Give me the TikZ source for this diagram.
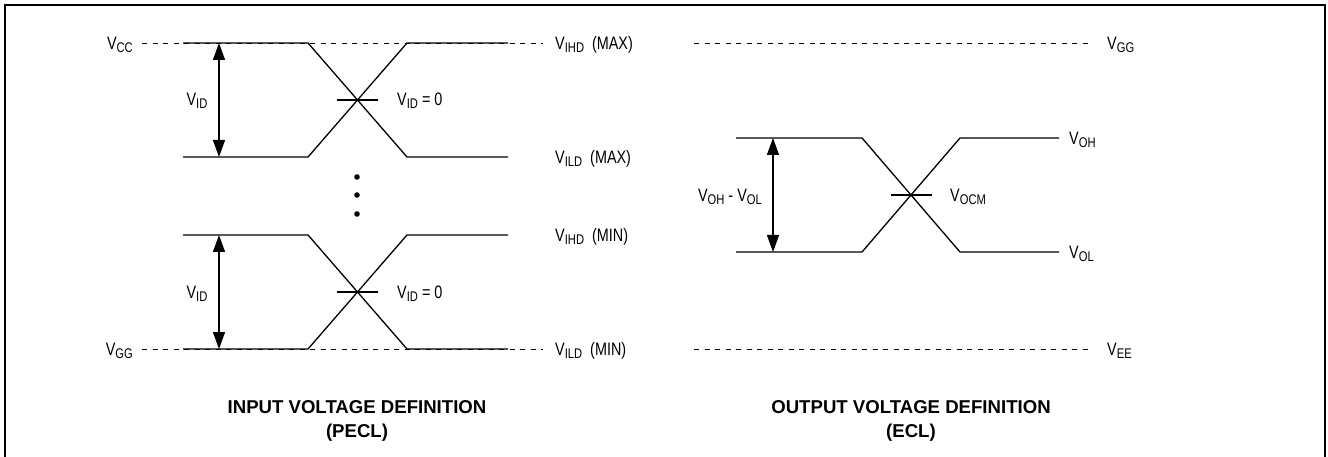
\documentclass[tikz,border=0pt]{standalone}
\usepackage{fontspec}
\setmainfont{Liberation Sans}
\newfontfamily\narrowfont[FakeStretch=0.8]{Liberation Sans}
\usetikzlibrary{positioning,arrows.meta}

\newcommand{\volt}[1]{V\raisebox{-0.3ex}{\fontsize{14}{14}\selectfont #1}}

\begin{document}
\begin{tikzpicture}[x=1pt, y=-1pt,
        lbl/.style={font=\narrowfont\fontsize{18}{18}\selectfont, inner sep=0pt},
        level/.style={line width=0.9pt, dash pattern=on 5pt off 5.5pt},
        sig/.style={line width=1.3pt},
        title/.style={font=\bfseries\fontsize{18.6}{24}\selectfont, align=center, inner sep=0pt}]
        \useasboundingbox (0,0) rectangle (1328,457);
        \draw[line width=2pt] (5,457) -- (5,5) -- (1325,5) -- (1325,457);

        % input side
        \draw[level] (142,43) -- (543,43);
        \draw[level] (142,349) -- (543,349);
        \coordinate (hiA) at (219,43);
        \coordinate (loA) at (219,157);
        \coordinate (hiB) at (219,235);
        \coordinate (loB) at (219,349);
        \draw[sig] (183,43) -- (308,43) -- (407,157) -- (508,157);
        \draw[sig] (183,157) -- (308,157) -- (407,43) -- (508,43);
        \draw[sig] (183,235) -- (308,235) -- (407,349) -- (508,349);
        \draw[sig] (183,349) -- (308,349) -- (407,235) -- (508,235);
        \draw[sig] (337,100) -- (378,100);
        \draw[sig] (337,292) -- (378,292);
        \draw[sig, {Triangle[length=17pt,width=12pt]}-{Triangle[length=17pt,width=12pt]}] (hiA) -- (loA);
        \draw[sig, {Triangle[length=17pt,width=12pt]}-{Triangle[length=17pt,width=12pt]}] (hiB) -- (loB);
        \foreach \y in {177,195,214}
            \fill (357,\y) circle (2.8pt);

        \node[lbl, anchor=base east] (vcc) at (133,49.5) {\volt{CC}};
        \node[lbl, anchor=base east] (vggin) at (133,355.5) {\volt{GG}};
        \node[lbl, anchor=base] (vidA) at (197,105.5) {\volt{ID}};
        \node[lbl, anchor=base] (vidB) at (197,298.5) {\volt{ID}};
        \node[lbl, anchor=base west] (zeroA) at (397,105.5) {\volt{ID} = 0};
        \node[lbl, anchor=base west] (zeroB) at (397,298.5) {\volt{ID} = 0};
        \node[lbl, anchor=base west] (ihdmax) at (555,49.5) {\volt{IHD}\hspace{8pt}(MAX)};
        \node[lbl, anchor=base west] (ildmax) at (555,163.5) {\volt{ILD}\hspace{8pt}(MAX)};
        \node[lbl, anchor=base west] (ihdmin) at (555,241.5) {\volt{IHD}\hspace{8pt}(MIN)};
        \node[lbl, anchor=base west] (ildmin) at (555,355.5) {\volt{ILD}\hspace{8pt}(MIN)};
        \node[title] (intitle) at (357,421) {INPUT VOLTAGE DEFINITION\\(PECL)};

        % output side
        \draw[level] (694,43) -- (1092,43);
        \draw[level] (694,349) -- (1092,349);
        \coordinate (hiC) at (773,138);
        \coordinate (loC) at (773,252);
        \draw[sig] (736,138) -- (862,138) -- (960,252) -- (1059,252);
        \draw[sig] (736,252) -- (862,252) -- (960,138) -- (1059,138);
        \draw[sig] (891,195) -- (932,195);
        \draw[sig, {Triangle[length=17pt,width=12pt]}-{Triangle[length=17pt,width=12pt]}] (hiC) -- (loC);

        \node[lbl, anchor=base west] (vggout) at (1107,49.5) {\volt{GG}};
        \node[lbl, anchor=base west] (vee) at (1107,355.5) {\volt{EE}};
        \node[lbl, anchor=base west] (voh) at (1069,144.5) {\volt{OH}};
        \node[lbl, anchor=base west] (vol) at (1069,258.5) {\volt{OL}};
        \node[lbl, anchor=base east] (swing) at (762,201.5) {\volt{OH} - \volt{OL}};
        \node[lbl, anchor=base west] (vocm) at (950,201.5) {\volt{OCM}};
        \node[title] (outtitle) at (911,421) {OUTPUT VOLTAGE DEFINITION\\(ECL)};
      \end{tikzpicture}
\end{document}
